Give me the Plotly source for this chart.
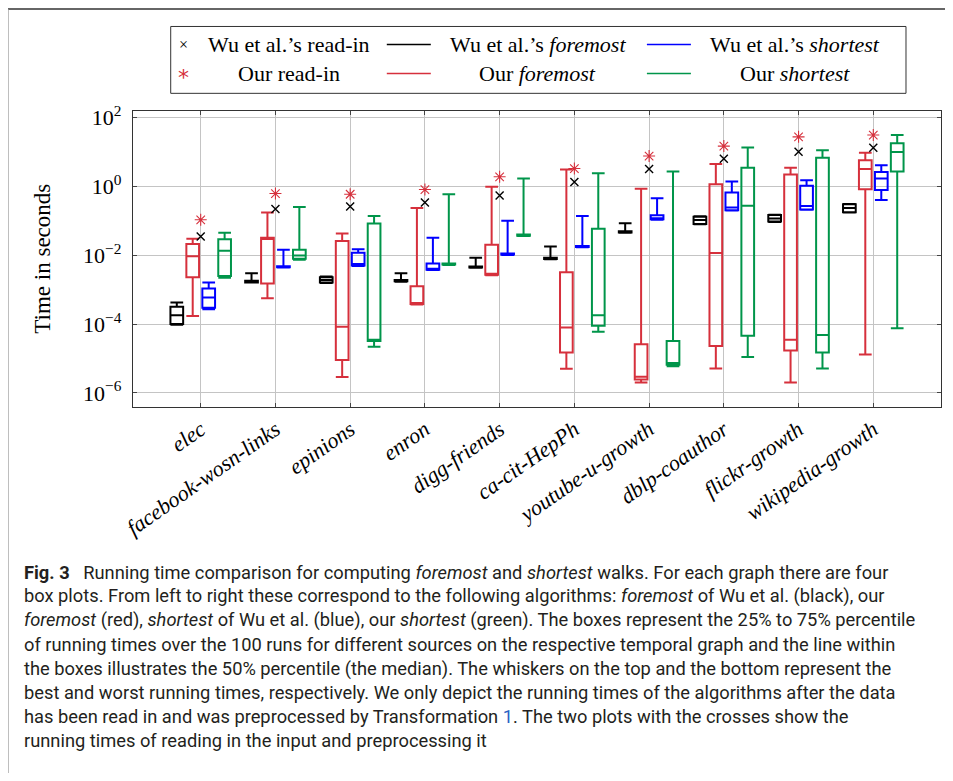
import plotly.graph_objects as go

# ---------------- data ----------------
categories = ["elec", "facebook-wosn-links", "epinions", "enron", "digg-friends",
              "ca-cit-HepPh", "youtube-u-growth", "dblp-coauthor", "flickr-growth",
              "wikipedia-growth"]

# Wu et al.'s foremost (black)
wu_foremost_lower = [9.5e-5, 1.6e-3, 1.55e-3, 1.7e-3, 4.3e-3, 7.6e-3, 4.5e-2, 7.9e-2, 9.3e-2, 0.174]
wu_foremost_q1 = [1.0e-4, 1.62e-3, 1.6e-3, 1.74e-3, 4.4e-3, 7.8e-3, 4.6e-2, 8.1e-2, 9.5e-2, 0.178]
wu_foremost_median = [1.8e-4, 1.66e-3, 1.9e-3, 1.78e-3, 4.5e-3, 7.9e-3, 4.7e-2, 0.105, 0.117, 0.234]
wu_foremost_q3 = [3.2e-4, 1.8e-3, 2.3e-3, 1.9e-3, 4.7e-3, 8.5e-3, 5.0e-2, 0.132, 0.148, 0.30]
wu_foremost_upper = [4.2e-4, 3.0e-3, 2.4e-3, 3.0e-3, 8.5e-3, 1.8e-2, 8.5e-2, 0.135, 0.151, 0.31]

# Our foremost (red)
our_foremost_lower = [1.7e-4, 5.6e-4, 2.9e-6, 3.7e-4, 2.6e-3, 5.0e-6, 2.0e-6, 5.1e-6, 2.0e-6, 1.3e-5]
our_foremost_q1 = [2.3e-3, 1.5e-3, 9.1e-6, 3.8e-4, 2.7e-3, 1.5e-5, 2.45e-6, 2.3e-5, 1.7e-5, 0.83]
our_foremost_median = [9.3e-3, 2.95e-2, 8.3e-5, 4.0e-4, 2.8e-3, 7.9e-5, 2.95e-6, 1.15e-2, 3.5e-5, 3.2]
our_foremost_q3 = [2.1e-2, 3.2e-2, 2.6e-2, 1.26e-3, 2.0e-2, 3.2e-3, 2.6e-5, 1.15, 2.2, 5.75]
our_foremost_upper = [3.0e-2, 0.174, 4.3e-2, 0.234, 0.98, 3.1, 0.85, 4.5, 3.5, 9.5]

# Wu et al.'s shortest (blue)
wu_shortest_lower = [2.7e-4, 4.4e-3, 4.9e-3, 3.7e-3, 1.02e-2, 1.7e-2, 0.107, 0.2, 0.209, 0.40]
wu_shortest_q1 = [3.0e-4, 4.5e-3, 5.0e-3, 3.8e-3, 1.05e-2, 1.74e-2, 0.11, 0.204, 0.214, 0.78]
wu_shortest_median = [5.9e-4, 4.6e-3, 5.6e-3, 4.0e-3, 1.07e-2, 1.78e-2, 0.115, 0.245, 0.27, 1.7]
wu_shortest_q3 = [1.07e-3, 4.8e-3, 1.17e-2, 5.75e-3, 1.12e-2, 1.86e-2, 0.145, 0.66, 1.05, 2.6]
wu_shortest_upper = [1.6e-3, 1.45e-2, 1.5e-2, 3.2e-2, 0.1, 0.138, 0.45, 1.38, 1.5, 4.1]

# Our shortest (green)
our_shortest_lower = [2.2e-3, 7.4e-3, 2.2e-5, 5.2e-3, 3.6e-2, 6.0e-5, 5.9e-6, 1.1e-5, 5.1e-6, 7.6e-5]
our_shortest_q1 = [2.5e-3, 7.9e-3, 3.2e-5, 5.4e-3, 3.7e-2, 8.9e-5, 6.6e-6, 4.6e-5, 1.5e-5, 2.7]
our_shortest_median = [1.35e-2, 9.8e-3, 3.5e-5, 5.5e-3, 3.8e-2, 1.8e-4, 7.4e-6, 0.275, 4.8e-5, 10.0]
our_shortest_q3 = [2.9e-2, 1.45e-2, 8.3e-2, 5.75e-3, 4.0e-2, 5.9e-2, 3.2e-5, 3.5, 6.8, 17.8]
our_shortest_upper = [4.5e-2, 0.25, 0.138, 0.59, 1.7, 2.4, 2.7, 13.5, 11.2, 31.0]

# read-in times
wu_readin = [3.5e-2, 0.22, 0.26, 0.34, 0.54, 1.35, 3.2, 6.3, 10.2, 13.2]
our_readin = [0.107, 0.62, 0.59, 0.81, 1.9, 3.3, 7.6, 14.8, 27.5, 31.0]

y_tickvals = [1e-6, 1e-4, 1e-2, 1, 1e2]
y_ticktext = ["10<sup>\u22126</sup>", "10<sup>\u22124</sup>", "10<sup>\u22122</sup>",
              "10<sup>0</sup>", "10<sup>2</sup>"]

# ---------------- styling / layout ----------------
BLACK = "#000000"
RED = "#d6303c"
BLUE = "#0000ff"
GREEN = "#00954a"
SERIF = "Liberation Serif, DejaVu Serif, serif"
CAPFONT = "Roboto, Liberation Sans, sans-serif"

BODY = 8                      # default page margin of the html body
W, H = 953 - 2 * BODY, 781 - 2 * BODY
PX0, PX1 = 133.3, 941.0       # plot area in page pixels
PY0, PY1 = 110.7, 407.3


def xp(px):
    return (px - PX0) / (PX1 - PX0)


def yp(py):
    return (PY1 - py) / (PY1 - PY0)


idx = list(range(len(categories)))
offsets = [-0.32, -0.107, 0.107, 0.32]
box_w = 0.17

series = [
    ("Wu et al.'s foremost", BLACK, wu_foremost_lower, wu_foremost_q1, wu_foremost_median, wu_foremost_q3, wu_foremost_upper),
    ("Our foremost", RED, our_foremost_lower, our_foremost_q1, our_foremost_median, our_foremost_q3, our_foremost_upper),
    ("Wu et al.'s shortest", BLUE, wu_shortest_lower, wu_shortest_q1, wu_shortest_median, wu_shortest_q3, wu_shortest_upper),
    ("Our shortest", GREEN, our_shortest_lower, our_shortest_q1, our_shortest_median, our_shortest_q3, our_shortest_upper),
]

fig = go.Figure()
for k, (name, col, lo, q1, med, q3, up) in enumerate(series):
    fig.add_trace(go.Box(
        name=name,
        x=[i + offsets[k] for i in idx],
        lowerfence=lo, q1=q1, median=med, q3=q3, upperfence=up,
        width=box_w, whiskerwidth=1,
        line=dict(color=col, width=2),
        fillcolor="rgba(255,255,255,0)",
        boxpoints=False, showlegend=False, hoverinfo="skip",
    ))

fig.add_trace(go.Scatter(
    x=idx, y=wu_readin, mode="markers", showlegend=False, hoverinfo="skip",
    marker=dict(symbol="x-thin", size=8, color=BLACK, line=dict(color=BLACK, width=1.4)),
))
fig.add_trace(go.Scatter(
    x=idx, y=our_readin, mode="markers", showlegend=False, hoverinfo="skip",
    marker=dict(symbol="asterisk", size=10, color=RED, line=dict(color=RED, width=1.1)),
))

shapes = []
annotations = []

# page frame lines
shapes.append(dict(type="line", xref="paper", yref="paper", x0=xp(0), x1=xp(953), y0=yp(8.5), y1=yp(8.5),
                   line=dict(color="#333333", width=1.5)))
shapes.append(dict(type="line", xref="paper", yref="paper", x0=xp(8.5), x1=xp(8.5), y0=yp(8.5), y1=yp(781),
                   line=dict(color="#9a9a9a", width=1)))

# legend box
shapes.append(dict(type="rect", xref="paper", yref="paper", x0=xp(171), x1=xp(906), y0=yp(26), y1=yp(93),
                   line=dict(color="#333333", width=1), fillcolor="white"))
row1, row2 = 44, 73
leg_lines = [(387, 431, row1, BLACK), (647, 691, row1, BLUE), (387, 431, row2, RED), (647, 691, row2, GREEN)]
for x0, x1, yy, col in leg_lines:
    shapes.append(dict(type="line", xref="paper", yref="paper", x0=xp(x0), x1=xp(x1), y0=yp(yy), y1=yp(yy),
                       line=dict(color=col, width=1.5)))
leg_texts = [
    (289, row1, "Wu et al.\u2019s read-in"),
    (538, row1, "Wu et al.\u2019s <i>foremost</i>"),
    (795, row1, "Wu et al.\u2019s <i>shortest</i>"),
    (289, row2, "Our read-in"),
    (538, row2, "Our <i>foremost</i>"),
    (795, row2, "Our <i>shortest</i>"),
]
for x, yy, t in leg_texts:
    annotations.append(dict(xref="paper", yref="paper", x=xp(x), y=yp(yy), text=t, showarrow=False,
                            xanchor="center", yanchor="middle", font=dict(family=SERIF, size=22, color="black")))
annotations.append(dict(xref="paper", yref="paper", x=xp(184), y=yp(row1), text="\u00d7", showarrow=False,
                        xanchor="center", yanchor="middle", font=dict(family=SERIF, size=16, color="black")))
annotations.append(dict(xref="paper", yref="paper", x=xp(184), y=yp(row2 + 4), text="*", showarrow=False,
                        xanchor="center", yanchor="middle", font=dict(family="DejaVu Sans", size=22, color=RED)))

# y axis title
annotations.append(dict(xref="paper", yref="paper", x=xp(42), y=yp(259), text="Time in seconds", textangle=-90,
                        showarrow=False, xanchor="center", yanchor="middle",
                        font=dict(family=SERIF, size=23, color="black")))

# caption
caption = [
    "<b>Fig. 3</b>\u00a0\u00a0 Running time comparison for computing <i>foremost</i> and <i>shortest</i> walks. For each graph there are four",
    "box plots. From left to right these correspond to the following algorithms: <i>foremost</i> of Wu et al. (black), our",
    "<i>foremost</i> (red), <i>shortest</i> of Wu et al. (blue), our <i>shortest</i> (green). The boxes represent the 25% to 75% percentile",
    "of running times over the 100 runs for different sources on the respective temporal graph and the line within",
    "the boxes illustrates the 50% percentile (the median). The whiskers on the top and the bottom represent the",
    "best and worst running times, respectively. We only depict the running times of the algorithms after the data",
    "has been read in and was preprocessed by Transformation <span style='color:#2a62c4'>1</span>. The two plots with the crosses show the",
    "running times of reading in the input and preprocessing it",
]
for n, line in enumerate(caption):
    annotations.append(dict(xref="paper", yref="paper", x=xp(22), y=yp(573 + 24.1 * n), text=line,
                            showarrow=False, xanchor="left", yanchor="middle",
                            font=dict(family=CAPFONT, size=18.3, color="#231f20")))

axis_common = dict(showgrid=True, gridcolor="#c4c4c4", gridwidth=1, ticks="inside", ticklen=4,
                   tickcolor="#444444", showline=True, linecolor="#333333", linewidth=1.3,
                   mirror="ticks", zeroline=False)

fig.update_layout(
    width=W, height=H,
    margin=dict(l=PX0 - BODY, r=W - (PX1 - BODY), t=PY0 - BODY, b=H - (PY1 - BODY), pad=0),
    paper_bgcolor="white", plot_bgcolor="white",
    boxmode="overlay", showlegend=False,
    shapes=shapes, annotations=annotations,
    xaxis=dict(range=[-0.906, 9.906], tickvals=idx,
               ticktext=["<i>" + c + "</i>" for c in categories], tickangle=-35,
               tickfont=dict(family=SERIF, size=22, color="black"), **axis_common),
    yaxis=dict(type="log", range=[-6.41, 2.19], tickvals=y_tickvals, ticktext=y_ticktext,
               ticklabelstandoff=6,
               tickfont=dict(family=SERIF, size=22, color="black"), **axis_common),
)

fig.write_html("out.html")
